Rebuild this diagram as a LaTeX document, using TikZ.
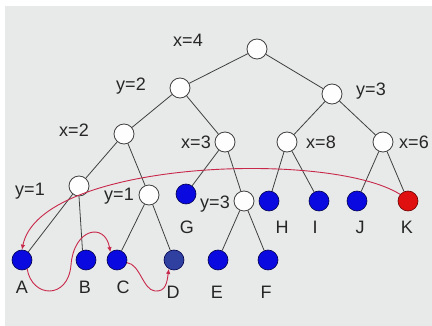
\documentclass[tikz,border=0pt]{standalone}
\usepackage{fontspec}
\setmainfont{Liberation Sans}
\usetikzlibrary{arrows.meta}
\definecolor{bggray}{HTML}{E8E9E9}
\definecolor{edgegray}{HTML}{404040}
\definecolor{leafblue}{HTML}{0A0AE0}
\definecolor{darkleaf}{HTML}{3040A0}
\definecolor{hotred}{HTML}{E01010}
\definecolor{pathred}{HTML}{C8284A}
\tikzset{
  inner/.style={circle, minimum size=20pt, inner sep=0pt, draw=edgegray, line width=0.8pt, fill=white!95!bggray},
  leaf/.style={circle, minimum size=20pt, inner sep=0pt, draw=black!70!blue, line width=0.6pt, fill=leafblue},
  lbl/.style={anchor=base, inner sep=0pt, font=\fontsize{18}{20}\selectfont, text=black!85},
  edge/.style={draw=edgegray, line width=0.8pt},
  trace/.style={draw=pathred, line width=0.9pt, -{Latex[length=5pt,width=4.5pt]}}
}
\begin{document}
\begin{tikzpicture}[x=1pt,y=-1pt]
\useasboundingbox (0,0) rectangle (432,326);
\fill[white] (0,0) rectangle (432,326);
\fill[bggray] (5,6) rectangle (432,326);
% internal nodes
\node[inner] (root) at (257,49) {};
\node[inner] (y2) at (180,88) {};
\node[inner] (y3) at (332,94) {};
\node[inner] (x2) at (124,134) {};
\node[inner] (x3) at (225,142) {};
\node[inner] (x8) at (287,142) {};
\node[inner] (x6) at (383,142) {};
\node[inner] (y1L) at (79,186) {};
\node[inner] (y1R) at (149,195) {};
\node[inner] (y3b) at (244,201) {};
% leaves
\node[leaf] (G) at (186,194) {};
\node[leaf] (H) at (269,201) {};
\node[leaf] (I) at (319,201) {};
\node[leaf] (J) at (357,201) {};
\node[leaf, fill=hotred, draw=black!60!red] (K) at (408,201) {};
\node[leaf] (A) at (22,260) {};
\node[leaf] (B) at (86,260) {};
\node[leaf] (C) at (117,260) {};
\node[leaf, fill=darkleaf, draw=black!70!blue] (D) at (174,260) {};
\node[leaf] (E) at (218,260) {};
\node[leaf] (F) at (268,260) {};
% edges
\draw[edge] (root) -- (y2);
\draw[edge] (root) -- (y3);
\draw[edge] (y2) -- (x2);
\draw[edge] (y2) -- (x3);
\draw[edge] (y3) -- (x8);
\draw[edge] (y3) -- (x6);
\draw[edge] (x2) -- (y1L);
\draw[edge] (x2) -- (y1R);
\draw[edge] (x3) -- (G);
\draw[edge] (x3) -- (y3b);
\draw[edge] (x8) -- (H);
\draw[edge] (x8) -- (I);
\draw[edge] (x6) -- (J);
\draw[edge] (x6) -- (K);
\draw[edge] (y1L) -- (A);
\draw[edge] (y1L.south) -- (B.110);
\draw[edge] (y1R) -- (C);
\draw[edge] (y1R) -- (D);
\draw[edge] (y3b) -- (E);
\draw[edge] (y3b) -- (F);
% labels
\node[lbl] (lx4) at (188,46.5) {x=4};
\node[lbl] (ly2) at (131,91) {y=2};
\node[lbl] (ly3) at (371,96) {y=3};
\node[lbl] (lx2) at (74,137) {x=2};
\node[lbl] (lx3) at (196,149) {x=3};
\node[lbl] (lx8) at (321,149) {x=8};
\node[lbl] (lx6) at (414,149) {x=6};
\node[lbl] (ly1L) at (30,196) {y=1};
\node[lbl] (ly1R) at (119,201) {y=1};
\node[lbl] (ly3b) at (215,209) {y=3};
\node[lbl] (lG) at (187,234) {G};
\node[lbl] (lH) at (282,234) {H};
\node[lbl] (lI) at (315,234) {I};
\node[lbl] (lJ) at (360,234) {J};
\node[lbl] (lK) at (407,234) {K};
\node[lbl] (lA) at (22,294) {A};
\node[lbl] (lB) at (85,294) {B};
\node[lbl] (lC) at (123,294) {C};
\node[lbl] (lD) at (173,299) {D};
\node[lbl] (lE) at (217,299) {E};
\node[lbl] (lF) at (266,299) {F};
% search trace
\draw[trace] (K.140) .. controls (330,150) and (40,160) .. (A.north);
\draw[trace] (A.-60) .. controls (32,298) and (68,300) .. (71,265)
  .. controls (74,228) and (105,222) .. (C.130);
\draw[trace] (C.-15) .. controls (140,264) and (143,290) .. (155,291)
  .. controls (166,292) and (167,282) .. (D.-120);
\end{tikzpicture}
\end{document}
